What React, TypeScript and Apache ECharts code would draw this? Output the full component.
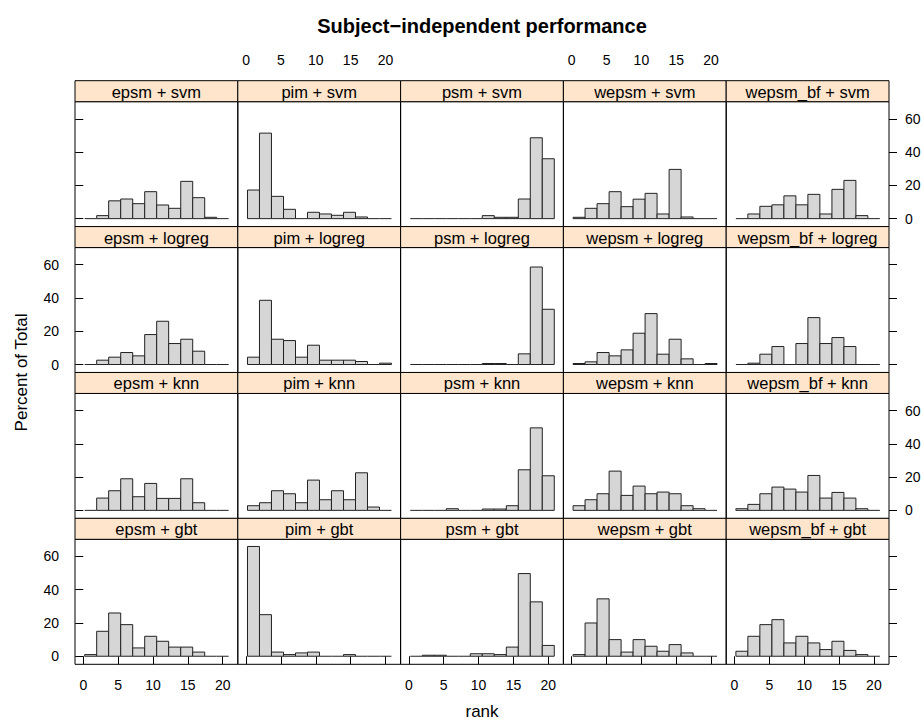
import React, { useEffect, useRef } from "react";
import * as echarts from "echarts";

// ---- data ----
const methods = ["epsm", "pim", "psm", "wepsm", "wepsm_bf"];
const classifiers = ["svm", "logreg", "knn", "gbt"];
const breaks = [0.2, 1.92, 3.64, 5.37, 7.09, 8.81, 10.53, 12.25, 13.98, 15.7, 17.42, 19.14, 20.86];
const xTicks = [0, 5, 10, 15, 20];
const yTicks = [0, 20, 40, 60];

const epsmSvm = [0, 1.8, 10.7, 11.8, 9, 16.2, 8.2, 6.2, 22.4, 12.6, 0.8, 0];
const pimSvm = [17.2, 51.4, 13.4, 5.6, 0, 3.8, 2.8, 2, 3.8, 1, 0, 0];
const psmSvm = [0, 0, 0, 0, 0, 0, 1.8, 0.8, 0.8, 11.8, 48.6, 36];
const wepsmSvm = [0.8, 6.2, 9, 16.2, 7.2, 11.7, 15.2, 2.8, 29.6, 1, 0, 0];
const wepsmBfSvm = [0, 2.8, 7.4, 8.3, 13.7, 8.3, 14.6, 2.8, 17.6, 23, 1.8, 0];

const epsmLogreg = [0, 2.6, 4.4, 7.2, 5.2, 18, 26, 12.6, 15.2, 8, 0, 0];
const pimLogreg = [4.4, 38.6, 15.2, 14.4, 4.4, 11.6, 2.6, 2.6, 2.6, 1.8, 0, 0.8];
const psmLogreg = [0, 0, 0, 0, 0, 0, 0.6, 0.6, 0, 6.4, 58.6, 33.2];
const wepsmLogreg = [0.6, 1.6, 7.2, 5.2, 8.8, 18.8, 30.6, 6.2, 15.2, 3.4, 0, 0.6];
const wepsmBfLogreg = [0, 0.8, 6.2, 10.8, 0, 12.6, 28.2, 12.6, 16.2, 10.8, 0, 0];

const epsmKnn = [0, 7.4, 11.8, 19, 8.2, 16.2, 7.2, 7.2, 19, 4.6, 0, 0];
const pimKnn = [2.8, 4.6, 11.8, 10, 4.6, 18.2, 6.4, 11.8, 6.4, 22.6, 2, 0];
const psmKnn = [0, 0, 0, 1, 0, 0, 0.8, 0.8, 2.8, 24.4, 49.6, 20.8];
const wepsmKnn = [2.8, 6.4, 10, 23.6, 9, 14.6, 10, 11, 10, 2.8, 1, 0];
const wepsmBfKnn = [1, 3.6, 10, 14, 12.8, 11, 21, 7.4, 10.8, 7.4, 1, 0];

const epsmGbt = [1, 15, 26, 19, 5, 12, 9, 5.5, 5.5, 2.5, 0, 0];
const pimGbt = [66, 25, 2.5, 1, 2, 2.5, 0, 0, 1, 0, 0, 0];
const psmGbt = [0, 0.6, 0.6, 0, 0, 1.5, 1.5, 1, 5.5, 49.7, 32.7, 6.5];
const wepsmGbt = [1, 20, 34.5, 10, 2.5, 10, 6, 3, 7, 2, 0, 0];
const wepsmBfGbt = [3, 12, 19, 22, 8, 12, 8, 4, 9, 3.5, 1, 0];

const values: number[][][] = [
  [epsmSvm, pimSvm, psmSvm, wepsmSvm, wepsmBfSvm],
  [epsmLogreg, pimLogreg, psmLogreg, wepsmLogreg, wepsmBfLogreg],
  [epsmKnn, pimKnn, psmKnn, wepsmKnn, wepsmBfKnn],
  [epsmGbt, pimGbt, psmGbt, wepsmGbt, wepsmBfGbt],
];

// ---- layout ----
const L = 75;
const PW = 162.8;
const T0 = 80.7;
const PITCH = 145.87;
const SH = 21;
const PH = 125;
const X_MIN = -1.19;
const X_MAX = 22.17;
const Y_MIN = -4.85;
const Y_MAX = 70.3;
const FONT = '"Liberation Sans", Arial, Helvetica, sans-serif';

function buildOption() {
  const grid: any[] = [];
  const xAxis: any[] = [];
  const yAxis: any[] = [];
  const series: any[] = [];
  const graphic: any[] = [];
  const tickStyle = { color: "#000", width: 1 };
  const labelBase = { fontSize: 14, color: "#000", fontFamily: FONT };

  for (let r = 0; r < 4; r++) {
    for (let c = 0; c < 5; c++) {
      const p = r * 5 + c;
      const stripTop = T0 + r * PITCH;
      grid.push({
        left: L + c * PW,
        top: stripTop + SH,
        width: PW,
        height: PH,
        show: true,
        borderColor: "#000",
        borderWidth: 1,
        backgroundColor: "transparent",
        containLabel: false,
        outerBoundsMode: "none",
      });
      xAxis.push({
        gridIndex: p,
        type: "value",
        min: X_MIN,
        max: X_MAX,
        position: "bottom",
        axisLine: { show: false },
        splitLine: { show: false },
        axisTick: { show: r === 3, length: 8, inside: false, lineStyle: tickStyle, customValues: xTicks },
        axisLabel: { ...labelBase, show: r === 3 && c % 2 === 0, customValues: xTicks, margin: 14 },
      });
      yAxis.push({
        gridIndex: p,
        type: "value",
        min: Y_MIN,
        max: Y_MAX,
        position: "left",
        axisLine: { show: false },
        splitLine: { show: false },
        axisTick: { show: c === 0, length: 8, inside: false, lineStyle: tickStyle, customValues: yTicks },
        axisLabel: { ...labelBase, show: c === 0 && r % 2 === 1, customValues: yTicks, margin: 16 },
      });
      const vals = values[r][c];
      series.push({
        type: "custom",
        xAxisIndex: p,
        yAxisIndex: p,
        encode: { x: [0, 1], y: 2 },
        data: vals.map((v, i) => [breaks[i], breaks[i + 1], v]),
        renderItem: (params: any, api: any) => {
          const x0 = api.value(0);
          const x1 = api.value(1);
          const h = api.value(2);
          const p0 = api.coord([x0, 0]);
          const p1 = api.coord([x1, h]);
          if (h === 0) {
            return {
              type: "line",
              shape: { x1: p0[0], y1: p0[1], x2: p1[0], y2: p0[1] },
              style: { stroke: "#222", lineWidth: 1 },
            };
          }
          return {
            type: "rect",
            shape: { x: p0[0], y: p1[1], width: p1[0] - p0[0], height: p0[1] - p1[1] },
            style: { fill: "#d6d6d6", stroke: "#222", lineWidth: 1 },
          };
        },
      });
      // strip
      graphic.push({
        type: "rect",
        shape: { x: L + c * PW, y: stripTop, width: PW, height: SH },
        style: { fill: "#ffe5cc", stroke: "#000", lineWidth: 1 },
        z: 10,
      });
      graphic.push({
        type: "text",
        x: L + c * PW + PW / 2,
        y: stripTop + SH / 2 + 0.5,
        z: 11,
        style: {
          text: `${methods[c]} + ${classifiers[r]}`,
          fill: "#000",
          font: `normal 400 16.5px ${FONT}`,
          textAlign: "center",
          textVerticalAlign: "middle",
          align: "center",
          verticalAlign: "middle",
        },
      });
    }
  }
  // right axes for last column
  for (let r = 0; r < 4; r++) {
    const p = r * 5 + 4;
    yAxis.push({
      gridIndex: p,
      type: "value",
      min: Y_MIN,
      max: Y_MAX,
      position: "right",
      axisLine: { show: false },
      splitLine: { show: false },
      axisTick: { show: true, length: 8, inside: false, lineStyle: tickStyle, customValues: yTicks },
      axisLabel: { ...labelBase, show: r % 2 === 0, customValues: yTicks, margin: 16 },
    });
  }
  // top axes above the first row strips
  for (let c = 0; c < 5; c++) {
    const gi = grid.length;
    grid.push({
      left: L + c * PW,
      top: T0,
      width: PW,
      height: SH,
      show: false,
      containLabel: false,
      outerBoundsMode: "none",
    });
    xAxis.push({
      gridIndex: gi,
      type: "value",
      min: X_MIN,
      max: X_MAX,
      position: "top",
      axisLine: { show: false },
      splitLine: { show: false },
      axisTick: { show: true, length: 8, inside: false, lineStyle: tickStyle, customValues: xTicks },
      axisLabel: { ...labelBase, show: c % 2 === 1, customValues: xTicks, margin: 14 },
    });
    yAxis.push({ gridIndex: gi, type: "value", min: 0, max: 1, show: false });
  }

  graphic.push({
    type: "text",
    x: 482,
    y: 25.6,
    z: 12,
    style: {
      text: "Subject\u2212independent performance",
      fill: "#000",
      font: `bold 20px ${FONT}`,
      textAlign: "center",
      textVerticalAlign: "middle",
      align: "center",
      verticalAlign: "middle",
    },
  });
  graphic.push({
    type: "text",
    x: 482,
    y: 711,
    z: 12,
    style: {
      text: "rank",
      fill: "#000",
      font: `17px ${FONT}`,
      textAlign: "center",
      textVerticalAlign: "middle",
      align: "center",
      verticalAlign: "middle",
    },
  });
  graphic.push({
    type: "text",
    x: 21,
    y: 372.5,
    rotation: Math.PI / 2,
    z: 12,
    style: {
      text: "Percent of Total",
      fill: "#000",
      font: `17px ${FONT}`,
      textAlign: "center",
      textVerticalAlign: "middle",
      align: "center",
      verticalAlign: "middle",
    },
  });

  return {
    animation: false,
    backgroundColor: "#fff",
    grid,
    xAxis,
    yAxis,
    series,
    graphic,
  };
}

export default function App() {
  const ref = useRef<HTMLDivElement>(null);
  useEffect(() => {
    if (!ref.current) return;
    const chart = echarts.init(ref.current, undefined, { renderer: "svg" });
    chart.setOption(buildOption());
    return () => chart.dispose();
  }, []);
  return (
    <div
      ref={ref}
      style={{ position: "fixed", left: 0, top: 0, width: 924, height: 722 }}
    />
  );
}
